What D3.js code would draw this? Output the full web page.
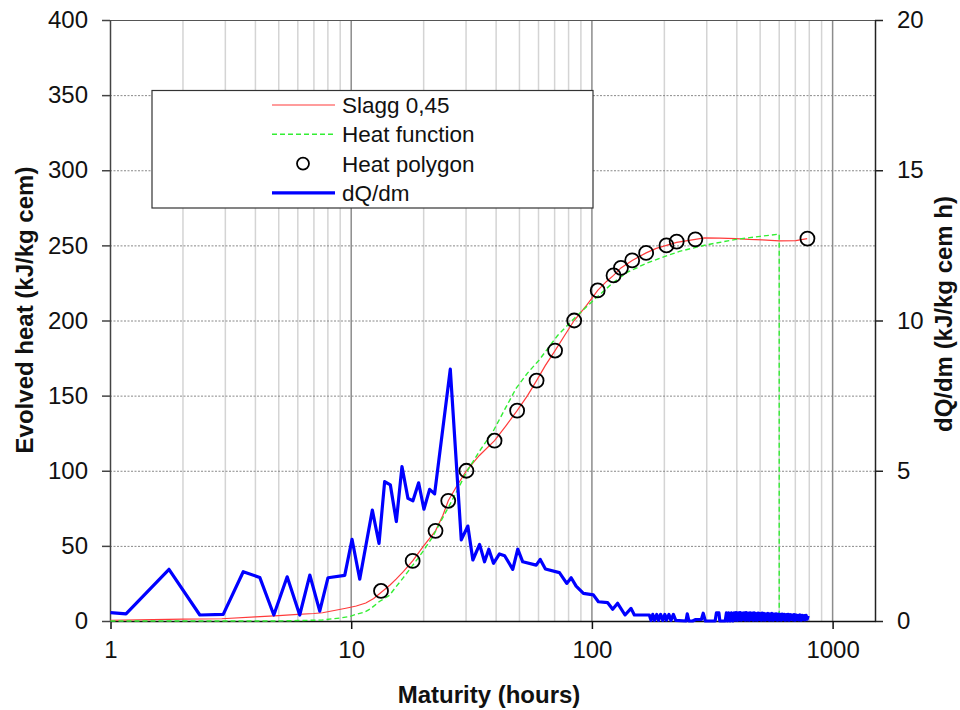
<!DOCTYPE html>
<html>
<head>
<meta charset="utf-8">
<script src="https://cdn.jsdelivr.net/npm/d3@7"></script>
<style>
  body { margin: 0; background: #fff; }
  svg { font-family: "Liberation Sans", Arial, sans-serif; }
</style>
</head>
<body>
<div id="viz"></div>
<script>
(function() {
  var svg, x, yL, yR, plot, lineL, lineR, legend, rows;

  // --- data ---
  var xTicks = [1, 10, 100, 1000];
  var yLeftTicks = [0, 50, 100, 150, 200, 250, 300, 350, 400];
  var yRightTicks = [0, 5, 10, 15, 20];
  var legendLabels = ["Slagg 0,45", "Heat function", "Heat polygon", "dQ/dm"];

  var slaggX = [1, 1.5, 2, 2.9, 4, 5, 6, 7, 7.6, 8.5,
    9.5, 10.5, 11.5, 12.4, 13.3, 14.5, 15.4, 16.5, 18, 20,
    22.4, 24, 25.3, 27.5, 30.1, 34, 39.4, 44, 48.9, 54,
    58.9, 64, 70.3, 77, 84.4, 95, 105.7, 115, 123, 132,
    147, 168, 185, 204, 225, 269, 293, 340, 397, 450,
    510, 600, 703, 784];
  var slaggY = [0.5, 0.9, 1.2, 1.5, 2.8, 3.6, 4.4, 5, 5.5, 7,
    8.5, 10, 12, 15, 19, 24, 28, 33, 40, 50,
    60, 70, 80, 90, 100, 110, 120, 130, 140, 150,
    160, 170, 180, 190, 200, 210, 220, 226, 230, 235,
    240, 245, 248, 250, 252, 254, 255, 254.8, 254.5, 254,
    253.7, 253, 253.2, 254.5];

  var funcX = [1, 3, 5, 6, 7, 7.6, 8.4, 9, 9.85, 10.5,
    11.4, 12, 13.1, 14.4, 15.4, 16.5, 18, 19.8, 21.8, 23.5,
    25.6, 27.8, 30.1, 34.1, 38.8, 43.5, 48.5, 54, 60.6, 64.6,
    72, 84, 100.8, 122, 140, 168, 200, 231, 298, 397,
    500, 600, 600];
  var funcY = [0, 0, 0, 0.3, 0.5, 0.7, 1.5, 2, 3, 4.5,
    6, 8, 13, 17, 23, 29, 37, 46, 56, 66,
    77, 88, 99, 113, 126, 141, 155, 165, 174, 180,
    190, 201, 213, 225, 232, 238, 242.5, 246, 250.3, 254,
    256, 257.5, 0];

  var polyX = [13.3, 18, 22.4, 25.3, 30.1, 39.4, 48.9, 58.9, 70.3, 84.4,
    105.7, 123, 132, 147, 168, 204, 225, 269, 786];
  var polyY = [20, 40, 60, 80, 100, 120, 140, 160, 180, 200,
    220, 230, 235, 240, 245, 250, 252.5, 254, 254.5];

  var dqdmX = [1, 1.16, 1.75, 2.35, 2.94, 3.56, 4.17, 4.77, 5.42, 6.11,
    6.73, 7.40, 8.01, 9.40, 10.08, 10.85, 12.24, 13.05, 13.77, 14.54,
    15.40, 16.25, 17.21, 18.05, 19.06, 20.05, 21.17, 22.21, 25.8, 28.66,
    30.52, 32.02, 34.15, 35.8, 37.3, 39.0, 41.3, 43.4, 46.9, 49.2,
    51.6, 58.7, 61.0, 64.1, 73.3, 78.6, 82.0, 86.0, 92.2, 101.4,
    106.4, 116.3, 122.0, 127.9, 137.3, 145.4, 150.1, 173.2, 176, 179,
    182, 186, 189, 193, 197, 201, 204, 209, 213, 218,
    223, 246, 249, 253, 262, 270, 285, 290, 296, 325,
    329, 337, 340, 358, 362, 366, 370, 375, 380, 385,
    390.2, 393.9, 397.7, 401.5, 405.4, 409.3, 413.2, 417.2, 421.2, 425.3,
    429.4, 433.5, 437.7, 441.9, 446.1, 450.4, 454.7, 459.1, 463.4, 467.9,
    472.4, 476.9, 481.5, 486.1, 490.8, 495.5, 500.2, 505.0, 509.9, 514.8,
    519.7, 524.7, 529.7, 534.8, 539.9, 545.1, 550.3, 555.6, 561.0, 566.4,
    571.8, 577.3, 582.8, 588.4, 594.1, 599.8, 605.5, 611.3, 617.2, 623.1,
    629.1, 635.2, 641.3, 647.4, 653.6, 659.9, 666.2, 672.6, 679.2, 685.6,
    692.1, 698.8, 705.6, 712.3, 719.3, 726.2, 733.1, 740.2, 747.3, 754.4,
    761.6, 769.0, 776.3, 783.8, 791.3];
  var dqdmY = [0.28, 0.24, 1.72, 0.2, 0.22, 1.64, 1.45, 0.2, 1.47, 0.2,
    1.53, 0.33, 1.44, 1.52, 2.72, 1.39, 3.69, 2.58, 4.64, 4.53,
    3.31, 5.14, 4.08, 4.0, 4.6, 3.72, 4.38, 4.23, 8.38, 2.7,
    3.16, 2.03, 2.55, 1.97, 2.39, 1.92, 2.23, 2.17, 1.72, 2.39,
    1.97, 1.86, 2.05, 1.73, 1.61, 1.25, 1.44, 1.16, 0.92, 0.87,
    0.64, 0.61, 0.39, 0.59, 0.2, 0.42, 0.2, 0.2, 0.02, 0.22,
    0.02, 0.22, 0.02, 0.22, 0.02, 0.22, 0.03, 0.22, 0.02, 0.22,
    0.02, 0.0, 0.24, 0.0, 0.0, 0.05, 0.05, 0.26, 0.0, 0.0,
    0.27, 0.27, 0.0, 0.0, 0.27, 0.0, 0.27, 0.0, 0.27, 0.0,
    0.27, 0.03, 0.28, 0.02, 0.27, 0.04, 0.28, 0.03, 0.26, 0.05,
    0.27, 0.03, 0.28, 0.04, 0.26, 0.03, 0.27, 0.05, 0.26, 0.03,
    0.27, 0.04, 0.25, 0.03, 0.26, 0.05, 0.25, 0.03, 0.26, 0.04,
    0.25, 0.03, 0.24, 0.05, 0.25, 0.03, 0.24, 0.04, 0.25, 0.03,
    0.23, 0.05, 0.24, 0.03, 0.23, 0.04, 0.22, 0.03, 0.23, 0.05,
    0.22, 0.03, 0.21, 0.04, 0.22, 0.03, 0.21, 0.05, 0.2, 0.04,
    0.21, 0.03, 0.2, 0.05, 0.19, 0.04, 0.2, 0.03, 0.19, 0.05,
    0.18, 0.04, 0.19, 0.06, 0.17];

  var zip = function(xs, ys) {
    return xs.map(function(d, j) { return [d, ys[j]]; });
  };

  // --- scales ---
  x = d3.scaleLog().domain([1, 1500]).range([110.5, 875]);
  yL = d3.scaleLinear().domain([0, 400]).range([621, 20]);
  yR = d3.scaleLinear().domain([0, 20]).range([621, 20]);

  svg = d3.select("#viz").append("svg").attr("width", 960).attr("height", 710);
  svg.append("rect").attr("width", 960).attr("height", 710).attr("fill", "#fff");

  // vertical grid (log minor + decades)
  svg.append("g").selectAll("line").data(x.ticks().filter(function(d) { return d > 1; }))
    .enter().append("line")
    .attr("x1", function(d) { return x(d); }).attr("x2", function(d) { return x(d); })
    .attr("y1", 20).attr("y2", 621)
    .attr("stroke", function(d) { return xTicks.indexOf(d) >= 0 ? "#8c8c8c" : "#d4d4d4"; })
    .attr("stroke-width", 1.5);

  // horizontal dotted grid
  svg.append("g").selectAll("line").data(yLeftTicks.filter(function(d) { return d > 0 && d < 400; }))
    .enter().append("line")
    .attr("x1", 110).attr("x2", 875)
    .attr("y1", function(d) { return yL(d) + 0.5; }).attr("y2", function(d) { return yL(d) + 0.5; })
    .attr("stroke", "#888").attr("stroke-width", 1).attr("stroke-dasharray", "2,1.5");

  // frame top
  svg.append("line").attr("x1", 110).attr("x2", 875).attr("y1", 20.5).attr("y2", 20.5)
    .attr("stroke", "#555").attr("stroke-width", 1.2);

  // --- axes ---
  var styleAxis = function(g, col) {
    g.selectAll("path").attr("stroke", col).attr("stroke-width", 1.5);
    g.selectAll("line").attr("stroke", col).attr("stroke-width", 1.5);
    g.selectAll("text").attr("font-size", 24).attr("fill", "#111")
      .attr("font-family", "'Liberation Sans', Arial, sans-serif");
  };

  svg.append("g").attr("transform", "translate(110,0)")
    .call(d3.axisLeft(yL).tickValues(yLeftTicks).tickSize(8).tickSizeOuter(0).tickPadding(14))
    .call(styleAxis, "#444");

  svg.append("g").attr("transform", "translate(875,0)")
    .call(d3.axisRight(yR).tickValues(yRightTicks).tickSize(8).tickSizeOuter(0).tickPadding(14))
    .call(styleAxis, "#222");

  svg.append("g").attr("transform", "translate(0,621)")
    .call(d3.axisBottom(x).tickValues(xTicks).tickFormat(d3.format("d")).tickSize(8).tickSizeOuter(0).tickPadding(12))
    .call(styleAxis, "#111");

  // --- series ---
  plot = svg.append("g");
  lineL = d3.line().x(function(d) { return x(d[0]); }).y(function(d) { return yL(d[1]); });
  lineR = d3.line().x(function(d) { return x(d[0]); }).y(function(d) { return yR(d[1]); });

  plot.append("path").datum(zip(slaggX, slaggY)).attr("d", lineL)
    .attr("fill", "none").attr("stroke", "#ff3b3b").attr("stroke-width", 1.2);

  plot.append("path").datum(zip(funcX, funcY)).attr("d", lineL)
    .attr("fill", "none").attr("stroke", "#33ee33").attr("stroke-width", 1.4)
    .attr("stroke-dasharray", "5,3");

  plot.append("path").datum(zip(dqdmX, dqdmY)).attr("d", lineR)
    .attr("fill", "none").attr("stroke", "#0000ff").attr("stroke-width", 3.2)
    .attr("stroke-linejoin", "round");

  plot.selectAll("circle").data(zip(polyX, polyY)).enter().append("circle")
    .attr("cx", function(d) { return x(d[0]); }).attr("cy", function(d) { return yL(d[1]); })
    .attr("r", 7).attr("fill", "none").attr("stroke", "#000").attr("stroke-width", 1.8);

  // --- legend ---
  legend = svg.append("g");
  legend.append("rect").attr("x", 152).attr("y", 90.5).attr("width", 441).attr("height", 117.5)
    .attr("fill", "#fff").attr("stroke", "#333").attr("stroke-width", 1.2);

  rows = legend.selectAll("g.row").data(legendLabels).enter().append("g")
    .attr("class", "row")
    .attr("transform", function(d, j) { return "translate(0," + (105 + j * 29.3) + ")"; });

  rows.append("text").attr("x", 342).attr("dy", "0.36em").attr("font-size", 22.5).attr("fill", "#111")
    .text(function(d) { return d; });

  rows.filter(function(d, j) { return j === 0; }).append("line")
    .attr("x1", 272).attr("x2", 335).attr("stroke", "#ff3b3b").attr("stroke-width", 1.2);
  rows.filter(function(d, j) { return j === 1; }).append("line")
    .attr("x1", 272).attr("x2", 335).attr("stroke", "#33ee33").attr("stroke-width", 1.4)
    .attr("stroke-dasharray", "5,3");
  rows.filter(function(d, j) { return j === 2; }).append("circle")
    .attr("cx", 303).attr("r", 6).attr("fill", "none").attr("stroke", "#000").attr("stroke-width", 1.8);
  rows.filter(function(d, j) { return j === 3; }).append("line")
    .attr("x1", 272).attr("x2", 335).attr("stroke", "#0000ff").attr("stroke-width", 3.2);

  // --- titles ---
  svg.append("text").attr("x", 489).attr("y", 703).attr("text-anchor", "middle")
    .attr("font-size", 24).attr("font-weight", "bold").attr("fill", "#111")
    .text("Maturity (hours)");

  svg.append("text").attr("transform", "translate(33,310) rotate(-90)").attr("text-anchor", "middle")
    .attr("font-size", 24).attr("font-weight", "bold").attr("fill", "#111")
    .text("Evolved heat (kJ/kg cem)");

  svg.append("text").attr("transform", "translate(952,314) rotate(-90)").attr("text-anchor", "middle")
    .attr("font-size", 24).attr("font-weight", "bold").attr("fill", "#111")
    .text("dQ/dm (kJ/kg cem h)");

}).call(this);
</script>
</body>
</html>
